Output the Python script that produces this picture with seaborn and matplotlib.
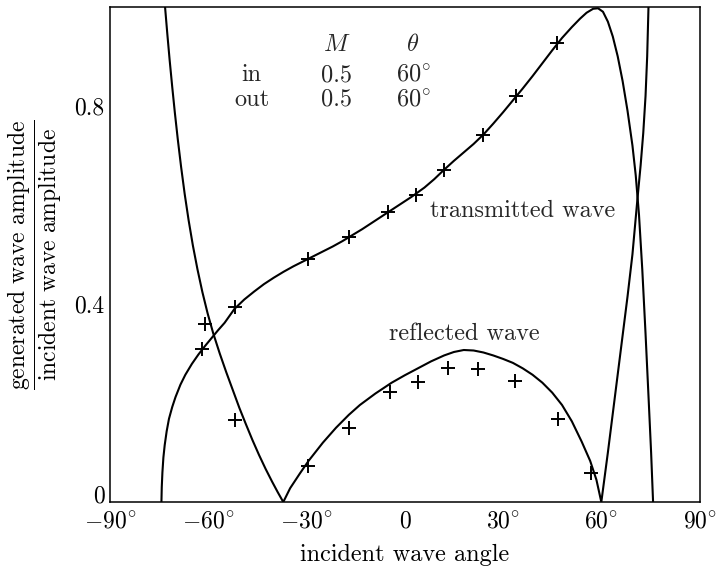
import matplotlib
matplotlib.use("Agg")
import matplotlib.pyplot as plt
import matplotlib.transforms as mtransforms
import seaborn as sns
import pandas as pd

# ---- data ----
# transmitted wave: theoretical curve (angle in degrees, amplitude ratio)
trans_angle = [-74.3, -74.2, -74.0, -73.7, -73.3, -72.7, -72.0, -71.0, -70.0, -68.5,
               -67.0, -65.0, -63.0, -61.0, -59.0, -57.0, -55.0, -52.0, -49.0, -46.0,
               -43.0, -40.0, -37.0, -34.0, -31.0, -28.0, -25.0, -22.0, -19.0, -16.0,
               -13.0, -10.0, -7.0, -4.0, -1.0, 2.0, 6.0, 9.0, 12.0, 15.0,
               18.0, 21.0, 24.0, 27.0, 30.0, 33.0, 36.0, 39.0, 42.0, 45.0,
               48.0, 51.0, 53.5, 55.5, 57.5, 59.0, 60.5, 62.0, 63.5, 65.0,
               66.5, 68.0, 69.5, 70.5, 71.5, 72.5, 73.5, 74.5, 75.2, 75.8]
trans_value = [0.0, 0.03, 0.06, 0.09, 0.115, 0.143, 0.168, 0.192, 0.212, 0.237,
               0.257, 0.279, 0.298, 0.315, 0.331, 0.347, 0.362, 0.39, 0.409, 0.425,
               0.44, 0.453, 0.465, 0.476, 0.486, 0.496, 0.506, 0.516, 0.527, 0.539,
               0.551, 0.564, 0.577, 0.59, 0.603, 0.616, 0.635, 0.652, 0.671, 0.689,
               0.706, 0.723, 0.742, 0.764, 0.787, 0.811, 0.835, 0.86, 0.886, 0.912,
               0.937, 0.959, 0.976, 0.988, 0.996, 0.997, 0.99, 0.97, 0.94, 0.9,
               0.85, 0.79, 0.72, 0.66, 0.58, 0.47, 0.34, 0.2, 0.1, 0.0]

# reflected wave: theoretical curve
refl_angle = [-73.6, -73.2, -72.5, -71.8, -71.0, -70.2, -69.3, -68.3, -67.2, -66.0,
              -64.7, -63.3, -61.8, -60.2, -58.5, -56.5, -54.5, -52.5, -50.5, -48.5,
              -46.5, -44.5, -42.5, -40.5, -38.8, -37.1, -35.0, -32.0, -29.4, -25.0,
              -21.0, -17.1, -13.7, -9.0, -4.0, 0.0, 4.0, 8.0, 12.0, 15.0,
              18.0, 21.0, 24.0, 27.0, 30.0, 33.0, 36.0, 39.0, 42.0, 45.0,
              48.0, 51.0, 54.0, 56.6, 58.5, 60.0, 62.0, 64.0, 66.0, 68.0,
              69.5, 71.0, 72.0, 72.8, 73.5, 74.0, 74.4, 74.6]
refl_value = [1.05, 1.0, 0.945, 0.893, 0.838, 0.786, 0.732, 0.677, 0.622, 0.569,
              0.518, 0.47, 0.424, 0.381, 0.341, 0.3, 0.262, 0.226, 0.19, 0.157,
              0.125, 0.095, 0.067, 0.041, 0.02, 0.0, 0.028, 0.058, 0.083, 0.12,
              0.15, 0.176, 0.196, 0.219, 0.241, 0.256, 0.27, 0.284, 0.296, 0.303,
              0.307, 0.306, 0.302, 0.296, 0.289, 0.281, 0.27, 0.257, 0.241, 0.221,
              0.196, 0.163, 0.122, 0.083, 0.045, 0.0, 0.1, 0.205, 0.31, 0.415,
              0.5, 0.61, 0.68, 0.745, 0.82, 0.9, 1.0, 1.05]

# measured points (+)
trans_pts_angle = [-62.0, -51.8, -29.4, -17.0, -5.0, 3.3, 12.1, 23.9, 34.1, 46.5]
trans_pts_value = [0.309, 0.393, 0.491, 0.535, 0.586, 0.619, 0.671, 0.741, 0.819, 0.926]
refl_pts_angle = [-61.0, -51.8, -29.4, -17.1, -4.6, 4.1, 13.1, 22.5, 33.6, 46.8, 56.8]
refl_pts_value = [0.360, 0.165, 0.072, 0.150, 0.223, 0.242, 0.270, 0.269, 0.244, 0.168, 0.058]

# ticks
x_ticks = [-90, -60, -30, 0, 30, 60, 90]
x_tick_labels = [r"$-90^{\circ}$", r"$-60^{\circ}$", r"$-30^{\circ}$", "0",
                 r"$30^{\circ}$", r"$60^{\circ}$", r"$90^{\circ}$"]
y_ticks = [0, 0.2, 0.4, 0.6, 0.8]
y_tick_labels = ["0", "", "0.4", "", "0.8"]

# inset table
table_header = [r"$M$", r"$\theta$"]
table_rows = ["in", "out"]
table_M = ["0.5", "0.5"]
table_theta = [r"$60^{\circ}$", r"$60^{\circ}$"]

curve_labels = ["transmitted wave", "reflected wave"]

# ---- plotting ----
sns.set_theme(style="white")
plt.rcParams["font.family"] = ["cmr10", "DejaVu Serif"]
plt.rcParams["mathtext.fontset"] = "cm"
plt.rcParams["axes.unicode_minus"] = False
plt.rcParams["axes.formatter.use_mathtext"] = True

fig = plt.figure(figsize=(7.19, 5.66), dpi=100)
ax = fig.add_axes([0.153, 0.113, 0.820, 0.875])

df_t = pd.DataFrame({"angle": trans_angle, "value": trans_value})
df_r = pd.DataFrame({"angle": refl_angle, "value": refl_value})
sns.lineplot(data=df_t, x="angle", y="value", sort=False, estimator=None,
             color="black", linewidth=1.5, ax=ax)
sns.lineplot(data=df_r, x="angle", y="value", sort=False, estimator=None,
             color="black", linewidth=1.5, ax=ax)

sns.scatterplot(x=trans_pts_angle, y=trans_pts_value, marker="+", s=90,
                color="black", linewidth=1.4, ax=ax, zorder=3)
sns.scatterplot(x=refl_pts_angle, y=refl_pts_value, marker="+", s=90,
                color="black", linewidth=1.4, ax=ax, zorder=3)

ax.set_xlim(-90, 90)
ax.set_ylim(0, 1.0)
ax.set_xticks(x_ticks)
ax.set_xticklabels(x_tick_labels)
ax.set_yticks(y_ticks)
ax.set_yticklabels(y_tick_labels)
ax.tick_params(axis="both", direction="in", length=8, width=1.0,
               labelsize=17, colors="black")
ax.tick_params(axis="x", pad=6)
ax.tick_params(axis="y", pad=4)
for s in ax.spines.values():
    s.set_color("black")
    s.set_linewidth(1.1)

# lift the y "0" label slightly, as in the reference
zero_lbl = ax.get_yticklabels()[0]
zero_lbl.set_transform(zero_lbl.get_transform() +
                       mtransforms.ScaledTranslation(0, 6 / 72, fig.dpi_scale_trans))

ax.set_xlabel("incident wave angle", fontsize=17.5, color="black")
ax.xaxis.set_label_coords(0.5, -0.085)
ax.set_ylabel(r"$\dfrac{\mathrm{generated\ wave\ amplitude}}{\mathrm{incident\ wave\ amplitude}}$",
              fontsize=17, color="black")
ax.yaxis.label.set_va("center")
ax.yaxis.set_label_coords(-0.126, 0.5)

# inset table
fs = 17.5
ax.text(-20.8, 0.923, table_header[0], fontsize=fs, ha="center", va="center")
ax.text(2.5, 0.923, table_header[1], fontsize=fs, ha="center", va="center")
row_y = [0.862, 0.812]
for i in range(2):
    ax.text(-46.7, row_y[i], table_rows[i], fontsize=fs, ha="center", va="center")
    ax.text(-20.8, row_y[i], table_M[i], fontsize=fs, ha="center", va="center")
    ax.text(2.5, row_y[i], table_theta[i], fontsize=fs, ha="center", va="center")

ax.text(7.6, 0.588, curve_labels[0], fontsize=fs, ha="left", va="center")
ax.text(18.3, 0.339, curve_labels[1], fontsize=fs, ha="center", va="center")

fig.savefig("out.png", dpi=100, facecolor="white")
